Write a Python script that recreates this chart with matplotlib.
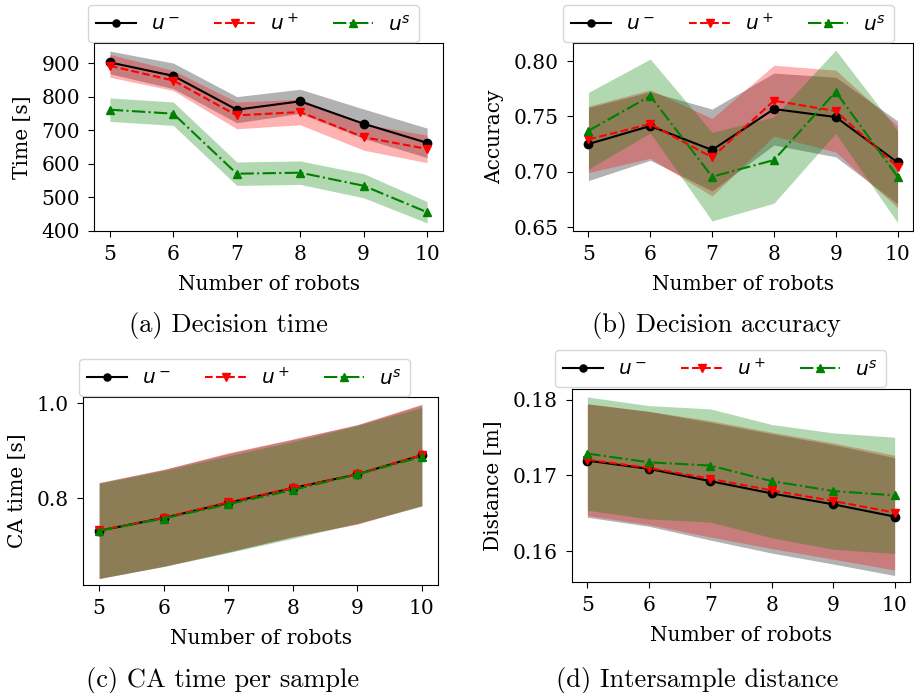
import numpy as np
import matplotlib
matplotlib.use("Agg")
import matplotlib.pyplot as plt

plt.rcParams['font.family'] = 'DejaVu Serif'
plt.rcParams['font.size'] = 14.5
plt.rcParams['xtick.major.size'] = 4.5
plt.rcParams['ytick.major.size'] = 4.5
plt.rcParams['xtick.major.pad'] = 5.5
plt.rcParams['ytick.major.pad'] = 5.5

robots = [5, 6, 7, 8, 9, 10]
labels = ['$u^-$', '$u^+$', '$u^s$']

# (a) decision time [s]
time_minus = [903, 863, 762, 787, 720, 663]
time_minus_std = [34, 38, 39, 36, 44, 44]
time_plus = [893, 849, 745, 755, 680, 645]
time_plus_std = [34, 30, 40, 38, 39, 41]
time_s = [762, 750, 571, 574, 535, 456]
time_s_std = [35, 35, 35, 35, 36, 32]

# (b) decision accuracy
acc_minus = [0.725, 0.7413, 0.7196, 0.7566, 0.7494, 0.7084]
acc_minus_std = [0.033, 0.031, 0.037, 0.0325, 0.036, 0.0375]
acc_plus = [0.7292, 0.7431, 0.713, 0.7642, 0.7548, 0.7045]
acc_plus_std = [0.030, 0.031, 0.035, 0.032, 0.037, 0.037]
acc_s = [0.737, 0.7684, 0.6955, 0.7105, 0.7723, 0.6955]
acc_s_std = [0.0347, 0.0334, 0.040, 0.039, 0.0376, 0.0415]

# (c) CA time per sample [s]
ca_minus = [0.7314, 0.7583, 0.790, 0.8212, 0.8502, 0.8905]
ca_minus_std = [0.101, 0.102, 0.104, 0.1025, 0.104, 0.106]
ca_plus = [0.7318, 0.7585, 0.7915, 0.8215, 0.850, 0.891]
ca_plus_std = [0.101, 0.102, 0.104, 0.103, 0.105, 0.107]
ca_s = [0.731, 0.757, 0.787, 0.817, 0.850, 0.887]
ca_s_std = [0.100, 0.101, 0.102, 0.102, 0.103, 0.104]

# (d) intersample distance [m]
dist_minus = [0.17197, 0.17088, 0.16925, 0.16763, 0.16618, 0.16456]
dist_minus_std = [0.0075, 0.0076, 0.0078, 0.0079, 0.0079, 0.0078]
dist_plus = [0.1721, 0.1710, 0.16956, 0.16803, 0.16662, 0.16509]
dist_plus_std = [0.0074, 0.0075, 0.0077, 0.0077, 0.0077, 0.0076]
dist_s = [0.1729, 0.17175, 0.17132, 0.16925, 0.16794, 0.16737]
dist_s_std = [0.0075, 0.0075, 0.0075, 0.0075, 0.0077, 0.0077]

W, H = 914, 693
fig = plt.figure(figsize=(W / 100, H / 100), dpi=100)


def px_axes(left, right, top, bottom):
    return fig.add_axes([left / W, 1 - bottom / H, (right - left) / W, (bottom - top) / H])


def panel(ax, series, ylabel, ylim, legend_xy):
    styles = [('k', '-', 'o'), ('r', '--', 'v'), ('g', '-.', '^')]
    for (mean, std), (c, ls, m), lab in zip(series, styles, labels):
        mean = np.array(mean)
        std = np.array(std)
        ax.fill_between(robots, mean - std, mean + std, color=c, alpha=0.3, linewidth=0)
        ax.plot(robots, mean, color=c, linestyle=ls, marker=m, markersize=6,
                linewidth=1.5, label=lab, zorder=3)
    ax.set_xticks(robots)
    ax.set_xlim(4.75, 10.25)
    ax.set_ylim(*ylim)
    ax.set_xlabel('Number of robots', labelpad=8)
    ax.set_ylabel(ylabel, labelpad=7)
    ax.legend(loc='upper left', bbox_to_anchor=(legend_xy[0] / W, 1 - legend_xy[1] / H),
              bbox_transform=fig.transFigure, ncol=3, borderaxespad=0, fontsize=14.5,
              columnspacing=1.7, handletextpad=0.75, markerscale=0.85)


ax_a = px_axes(94, 443, 43, 231)
panel(ax_a, [(time_minus, time_minus_std), (time_plus, time_plus_std), (time_s, time_s_std)],
      'Time [s]', (400, 961), (88, 5))
ax_a.set_yticks([400, 500, 600, 700, 800, 900])

ax_b = px_axes(573, 913, 43, 231)
panel(ax_b, [(acc_minus, acc_minus_std), (acc_plus, acc_plus_std), (acc_s, acc_s_std)],
      'Accuracy', (0.6464, 0.8163), (563, 5))
ax_b.set_yticks([0.65, 0.70, 0.75, 0.80])
ax_b.set_yticklabels(['0.65', '0.70', '0.75', '0.80'])

ax_c = px_axes(83, 438, 397, 585)
panel(ax_c, [(ca_minus, ca_minus_std), (ca_plus, ca_plus_std), (ca_s, ca_s_std)],
      'CA time [s]', (0.617, 1.013), (79, 359))
ax_c.set_yticks([0.8, 1.0])

ax_d = px_axes(572, 910, 389, 582)
panel(ax_d, [(dist_minus, dist_minus_std), (dist_plus, dist_plus_std), (dist_s, dist_s_std)],
      'Distance [m]', (0.1559, 0.18145), (555, 350))
ax_d.set_yticks([0.16, 0.17, 0.18])

captions = [('(a) Decision time', 228, 325), ('(b) Decision accuracy', 716, 325),
            ('(c) CA time per sample', 223, 680), ('(d) Intersample distance', 697, 680)]
for txt, cx, cy in captions:
    fig.text(cx / W, 1 - cy / H, txt, family='cmr10', fontsize=19, ha='center', va='center')

fig.savefig('out.png', dpi=100)
